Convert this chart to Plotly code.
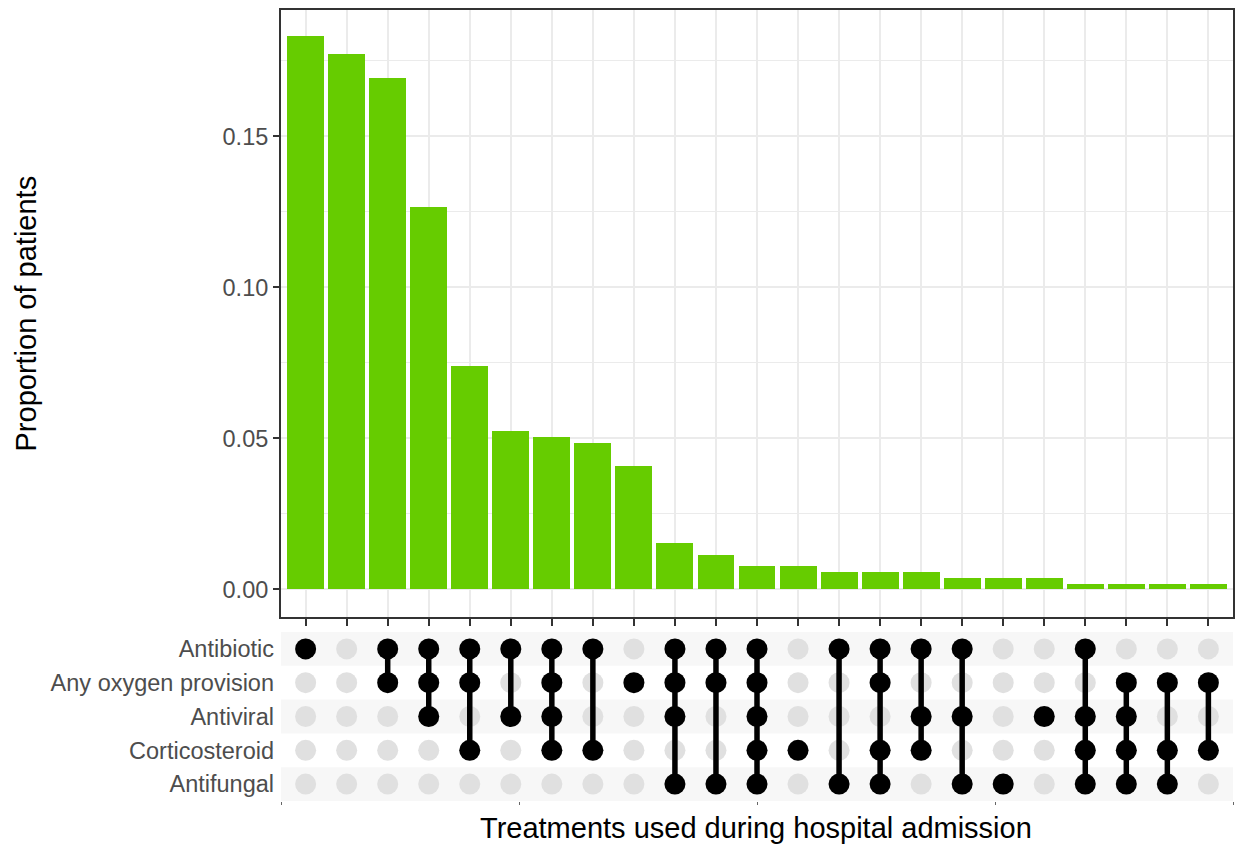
import plotly.graph_objects as go

# ---------------- data ----------------
treatments = ["Antibiotic", "Any oxygen provision", "Antiviral", "Corticosteroid", "Antifungal"]

combinations = [
    ["Antibiotic"],
    [],
    ["Antibiotic", "Any oxygen provision"],
    ["Antibiotic", "Any oxygen provision", "Antiviral"],
    ["Antibiotic", "Any oxygen provision", "Corticosteroid"],
    ["Antibiotic", "Antiviral"],
    ["Antibiotic", "Any oxygen provision", "Antiviral", "Corticosteroid"],
    ["Antibiotic", "Corticosteroid"],
    ["Any oxygen provision"],
    ["Antibiotic", "Any oxygen provision", "Antiviral", "Antifungal"],
    ["Antibiotic", "Any oxygen provision", "Antifungal"],
    ["Antibiotic", "Any oxygen provision", "Antiviral", "Corticosteroid", "Antifungal"],
    ["Corticosteroid"],
    ["Antibiotic", "Antifungal"],
    ["Antibiotic", "Any oxygen provision", "Corticosteroid", "Antifungal"],
    ["Antibiotic", "Antiviral", "Corticosteroid"],
    ["Antibiotic", "Antiviral", "Antifungal"],
    ["Antifungal"],
    ["Antiviral"],
    ["Antibiotic", "Antiviral", "Corticosteroid", "Antifungal"],
    ["Any oxygen provision", "Antiviral", "Corticosteroid", "Antifungal"],
    ["Any oxygen provision", "Corticosteroid", "Antifungal"],
    ["Any oxygen provision", "Corticosteroid"],
]

proportions = [0.1832, 0.1771, 0.1694, 0.1265, 0.0740, 0.0524, 0.0505, 0.0486,
               0.0409, 0.0153, 0.0115, 0.0076, 0.0076, 0.0057, 0.0057, 0.0057,
               0.0038, 0.0038, 0.0038, 0.0019, 0.0019, 0.0019, 0.0019]

y_ticks = [0.00, 0.05, 0.10, 0.15]
y_ticktext = ["0.00", "0.05", "0.10", "0.15"]
y_minor = [0.025, 0.075, 0.125, 0.175]

# ---------------- layout helpers ----------------
W, H = 1236, 848
FONT = "Liberation Sans, Arial, Helvetica, sans-serif"
px_x = lambda p: p / W
px_y = lambda p: 1 - p / H

xdom = [px_x(281), px_x(1233)]
top_dom = [px_y(617), px_y(10)]
mat_dom = [px_y(801), px_y(632)]

n = len(combinations)
xs = list(range(1, n + 1))
xrange_ = [0.4, n + 0.6]
row_idx = {t: len(treatments) - 1 - i for i, t in enumerate(treatments)}

fig = go.Figure()

fig.add_trace(go.Bar(x=xs, y=proportions, width=0.9, marker_color="#66CC00",
                     marker_line_width=0, xaxis="x", yaxis="y", showlegend=False))

gx, gy = [], []
for x in xs:
    for t in treatments:
        gx.append(x)
        gy.append(row_idx[t])
fig.add_trace(go.Scatter(x=gx, y=gy, mode="markers",
                         marker=dict(size=21, color="#E0E0E0"),
                         xaxis="x2", yaxis="y2", showlegend=False, hoverinfo="skip"))

lx, ly = [], []
for x, combo in zip(xs, combinations):
    if len(combo) > 1:
        ys = [row_idx[t] for t in combo]
        lx += [x, x, None]
        ly += [min(ys), max(ys), None]
fig.add_trace(go.Scatter(x=lx, y=ly, mode="lines",
                         line=dict(color="black", width=5.5),
                         xaxis="x2", yaxis="y2", showlegend=False, hoverinfo="skip"))

bx, by = [], []
for x, combo in zip(xs, combinations):
    for t in combo:
        bx.append(x)
        by.append(row_idx[t])
fig.add_trace(go.Scatter(x=bx, y=by, mode="markers",
                         marker=dict(size=21, color="black"),
                         xaxis="x2", yaxis="y2", showlegend=False, hoverinfo="skip"))

shapes = []
for i, t in enumerate(treatments):
    if i % 2 == 0:
        r = row_idx[t]
        shapes.append(dict(type="rect", xref="x2 domain", yref="y2",
                           x0=0, x1=1, y0=r - 0.5, y1=r + 0.5,
                           fillcolor="#F7F7F7", line_width=0, layer="below"))

fig.update_layout(
    width=W, height=H,
    margin=dict(l=0, r=0, t=0, b=0),
    paper_bgcolor="white", plot_bgcolor="white",
    font=dict(family=FONT, color="#4D4D4D"),
    bargap=0,
    shapes=shapes,
    xaxis=dict(domain=xdom, anchor="y", range=xrange_, tickvals=xs,
               showticklabels=False, ticks="outside", ticklen=7, tickwidth=2,
               tickcolor="#333333", showgrid=True, gridcolor="#EBEBEB", gridwidth=2,
               zeroline=False, showline=True, linecolor="#333333", linewidth=2,
               mirror=True),
    yaxis=dict(domain=top_dom, anchor="x", range=[-0.00913, 0.1918],
               tickvals=y_ticks, ticktext=y_ticktext, ticks="outside", ticklen=6,
               tickwidth=2, tickcolor="#333333", showgrid=True, gridcolor="#EBEBEB",
               gridwidth=2, zeroline=False, showline=True, linecolor="#333333",
               linewidth=2, mirror=True,
               tickfont=dict(size=23.5, color="#4D4D4D", family=FONT),
               minor=dict(tickvals=y_minor, showgrid=True, gridcolor="#EBEBEB",
                          gridwidth=1, ticks="")),
    xaxis2=dict(domain=xdom, anchor="y2", range=xrange_,
                tickvals=[xrange_[0] + k * (xrange_[1] - xrange_[0]) / 4 for k in range(5)],
                showticklabels=False, ticks="outside", ticklen=3, tickwidth=1,
                tickcolor="#666666", showgrid=False, zeroline=False, showline=False),
    yaxis2=dict(domain=mat_dom, anchor="x2", range=[-0.5, len(treatments) - 0.5],
                tickvals=[row_idx[t] for t in treatments], ticktext=treatments,
                ticks="", showgrid=False, zeroline=False, showline=False,
                ticklabelstandoff=6,
                tickfont=dict(size=23.5, color="#4D4D4D", family=FONT)),
    annotations=[
        dict(text="Proportion of patients", xref="paper", yref="paper",
             x=px_x(25), y=px_y(313.5), textangle=-90, showarrow=False,
             xanchor="center", yanchor="middle",
             font=dict(size=29, color="black", family=FONT)),
        dict(text="Treatments used during hospital admission", xref="paper", yref="paper",
             x=px_x(756), y=px_y(828), showarrow=False,
             xanchor="center", yanchor="middle",
             font=dict(size=29, color="black", family=FONT)),
    ],
)

fig.write_html("out.html")
